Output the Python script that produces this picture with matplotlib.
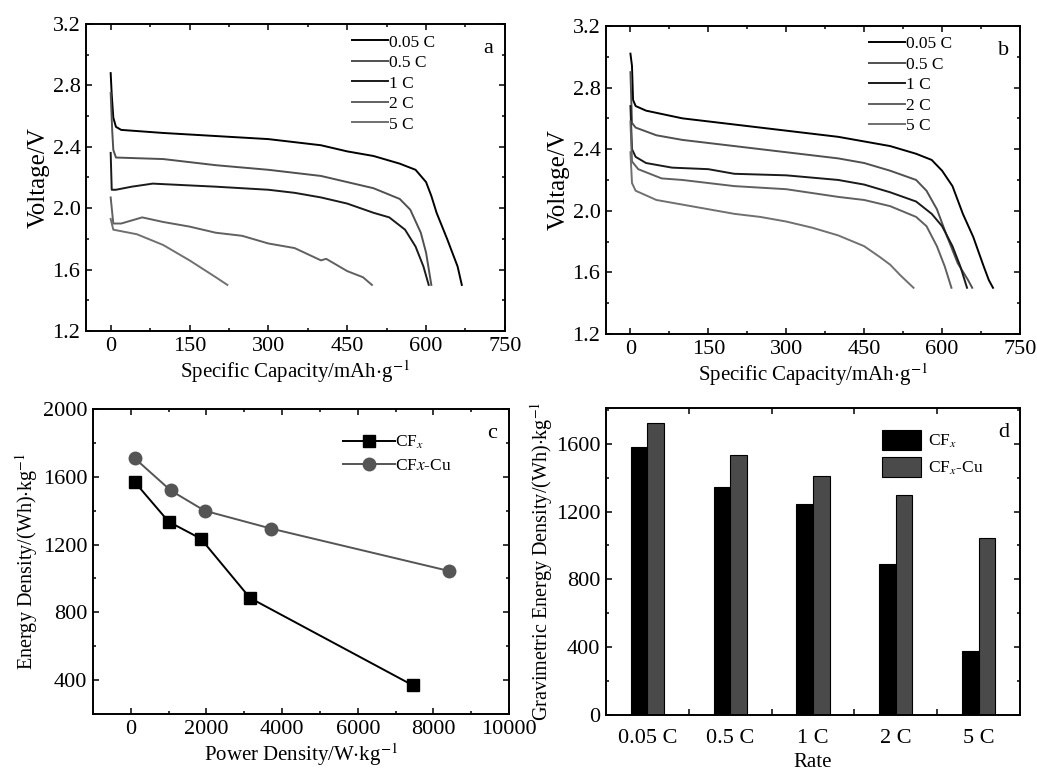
import numpy as np
import matplotlib
matplotlib.use("Agg")
import matplotlib.pyplot as plt
from matplotlib.ticker import MultipleLocator

plt.rcParams['font.family'] = ['Liberation Serif', 'DejaVu Serif']
plt.rcParams['mathtext.fontset'] = 'stix'
plt.rcParams['font.size'] = 13

# ---- panel a: CFx discharge curves ----
a_005_x = [0, 2, 5, 10, 20, 100, 200, 300, 400, 450, 500, 550, 580, 600, 610, 620, 640, 660, 668]
a_005_v = [2.88, 2.74, 2.59, 2.53, 2.51, 2.49, 2.47, 2.45, 2.41, 2.37, 2.34, 2.29, 2.25, 2.17, 2.08, 1.97, 1.80, 1.62, 1.50]
a_05_x = [0, 3, 5, 10, 100, 200, 300, 400, 450, 500, 550, 570, 590, 600, 610]
a_05_v = [2.75, 2.50, 2.38, 2.33, 2.32, 2.28, 2.25, 2.21, 2.17, 2.13, 2.06, 1.99, 1.84, 1.71, 1.50]
a_1_x = [0, 2, 10, 40, 80, 200, 300, 350, 400, 450, 500, 530, 560, 580, 595, 605]
a_1_v = [2.36, 2.12, 2.12, 2.14, 2.16, 2.14, 2.12, 2.10, 2.07, 2.03, 1.97, 1.94, 1.86, 1.75, 1.62, 1.50]
a_2_x = [0, 5, 20, 60, 100, 150, 200, 250, 300, 350, 400, 410, 420, 450, 480, 497]
a_2_v = [2.07, 1.90, 1.90, 1.94, 1.91, 1.88, 1.84, 1.82, 1.77, 1.74, 1.66, 1.67, 1.65, 1.59, 1.55, 1.50]
a_5_x = [0, 5, 50, 100, 150, 200, 222]
a_5_v = [1.93, 1.86, 1.83, 1.76, 1.66, 1.55, 1.50]

# ---- panel b: CFx-Cu discharge curves ----
b_005_x = [0, 3, 5, 10, 30, 100, 150, 200, 300, 400, 450, 500, 550, 580, 600, 620, 640, 660, 680, 690, 698]
b_005_v = [3.02, 2.94, 2.72, 2.68, 2.65, 2.60, 2.58, 2.56, 2.52, 2.48, 2.45, 2.42, 2.37, 2.33, 2.26, 2.16, 1.98, 1.83, 1.64, 1.55, 1.50]
b_05_x = [0, 3, 10, 50, 100, 200, 300, 400, 450, 500, 550, 570, 590, 610, 630, 650, 658]
b_05_v = [2.90, 2.57, 2.54, 2.49, 2.46, 2.42, 2.38, 2.34, 2.31, 2.26, 2.20, 2.13, 2.01, 1.83, 1.66, 1.55, 1.50]
b_1_x = [0, 3, 10, 30, 80, 150, 200, 300, 400, 450, 500, 550, 580, 600, 620, 635, 648]
b_1_v = [2.68, 2.40, 2.35, 2.31, 2.28, 2.27, 2.24, 2.23, 2.20, 2.17, 2.12, 2.06, 1.98, 1.90, 1.77, 1.64, 1.50]
b_2_x = [0, 3, 15, 60, 100, 200, 300, 400, 450, 500, 550, 570, 590, 605, 618]
b_2_v = [2.58, 2.32, 2.27, 2.21, 2.20, 2.16, 2.14, 2.09, 2.07, 2.03, 1.96, 1.90, 1.77, 1.64, 1.50]
b_5_x = [0, 3, 10, 50, 100, 150, 200, 250, 300, 350, 400, 450, 480, 500, 520, 545]
b_5_v = [2.38, 2.18, 2.13, 2.07, 2.04, 2.01, 1.98, 1.96, 1.93, 1.89, 1.84, 1.77, 1.70, 1.65, 1.58, 1.50]

rate_labels = ['0.05 C', '0.5 C', '1 C', '2 C', '5 C']
curve_colors = ['#000000', '#505050', '#1a1a1a', '#606060', '#707070']

# ---- panel c: Ragone ----
cfx_power = [100, 1000, 1850, 3150, 7450]
cfx_energy = [1570, 1335, 1235, 885, 370]
cfxcu_power = [100, 1050, 1950, 3700, 8400]
cfxcu_energy = [1710, 1520, 1400, 1295, 1045]

# ---- panel d: bar chart ----
cfx_bar = [1580, 1345, 1245, 890, 380]
cfxcu_bar = [1720, 1535, 1410, 1300, 1045]

fig = plt.figure(figsize=(10.37, 7.74), dpi=100)
ax_a = fig.add_axes([0.0829, 0.5724, 0.404, 0.3966])
ax_b = fig.add_axes([0.5844, 0.5685, 0.3992, 0.398])
ax_c = fig.add_axes([0.0897, 0.0775, 0.4012, 0.394])
ax_d = fig.add_axes([0.5844, 0.0762, 0.3992, 0.3966])


def style(ax):
    for s in ax.spines.values():
        s.set_linewidth(1.4)
    ax.tick_params(which='both', direction='in', top=True, right=True, width=1.1)
    ax.tick_params(which='major', length=4, labelsize=16, pad=4)
    ax.tick_params(which='minor', length=2.5)


for ax, curves, letter in [
    (ax_a, [(a_005_x, a_005_v), (a_05_x, a_05_v), (a_1_x, a_1_v), (a_2_x, a_2_v), (a_5_x, a_5_v)], 'a'),
    (ax_b, [(b_005_x, b_005_v), (b_05_x, b_05_v), (b_1_x, b_1_v), (b_2_x, b_2_v), (b_5_x, b_5_v)], 'b'),
]:
    for (x, v), lab, col in zip(curves, rate_labels, curve_colors):
        ax.plot(x, v, color=col, lw=1.4, label=lab)
    ax.set_xlim(-47, 750)
    ax.set_ylim(1.2, 3.2)
    ax.xaxis.set_major_locator(MultipleLocator(150))
    ax.xaxis.set_minor_locator(MultipleLocator(75))
    ax.yaxis.set_major_locator(MultipleLocator(0.4))
    ax.yaxis.set_minor_locator(MultipleLocator(0.2))
    ax.yaxis.set_major_formatter(plt.FormatStrFormatter('%.1f'))
    ax.set_xlabel('Specific Capacity/mAh$\\cdot$g$^{-1}$', fontsize=15, labelpad=2)
    ax.set_ylabel('Voltage/V', fontsize=18, labelpad=2)
    ax.legend(loc='upper left', bbox_to_anchor=(0.61, 1.0), frameon=False,
              fontsize=12.5, handlelength=2.1, handletextpad=0.05, labelspacing=0.25,
              borderaxespad=0.2)
    ax.text(0.96, 0.92, letter, transform=ax.transAxes, fontsize=16, ha='center', va='center')
    style(ax)

# panel c
ax_c.plot(cfx_power, cfx_energy, color='black', lw=1.4, marker='s', ms=9, label='CF$_x$')
ax_c.plot(cfxcu_power, cfxcu_energy, color='#555555', lw=1.4, marker='o', ms=9,
          label='CF$x$-Cu')
ax_c.set_xlim(-1000, 10000)
ax_c.set_ylim(200, 2000)
ax_c.xaxis.set_major_locator(MultipleLocator(2000))
ax_c.xaxis.set_minor_locator(MultipleLocator(1000))
ax_c.yaxis.set_major_locator(MultipleLocator(400))
ax_c.yaxis.set_minor_locator(MultipleLocator(200))
ax_c.set_xlabel('Power Density/W$\\cdot$kg$^{-1}$', fontsize=15, labelpad=2)
ax_c.set_ylabel('Energy Density/(Wh)$\\cdot$kg$^{-1}$', fontsize=14.5, labelpad=2)
ax_c.legend(loc='upper right', bbox_to_anchor=(0.9, 0.97), frameon=False, fontsize=12.5,
            handlelength=3.0, handletextpad=0.0, labelspacing=0.4)
ax_c.text(0.96, 0.92, 'c', transform=ax_c.transAxes, fontsize=16, ha='center', va='center')
style(ax_c)

# panel d
xpos = np.arange(len(rate_labels))
w = 0.2
ax_d.bar(xpos - w / 2, cfx_bar, w, color='black', edgecolor='black', lw=0.8, label='CF$_x$')
ax_d.bar(xpos + w / 2, cfxcu_bar, w, color='#4a4a4a', edgecolor='black', lw=0.8,
         label='CF$_x$-Cu')
ax_d.set_xlim(-0.5, 4.5)
ax_d.set_ylim(0, 1810)
ax_d.set_xticks(xpos)
ax_d.set_xticklabels(rate_labels)
ax_d.set_xticks(xpos[:-1] + 0.5, minor=True)
ax_d.yaxis.set_major_locator(MultipleLocator(400))
ax_d.yaxis.set_minor_locator(MultipleLocator(200))
ax_d.set_xlabel('Rate', fontsize=15, labelpad=4)
ax_d.set_ylabel('Gravimetric Energy Density/(Wh)$\\cdot$kg$^{-1}$', fontsize=14.5, labelpad=1)
ax_d.legend(loc='upper left', bbox_to_anchor=(0.63, 0.98), frameon=False, fontsize=12.5,
            handlelength=2.2, handleheight=1.4, handletextpad=0.4, labelspacing=0.4)
ax_d.text(0.96, 0.92, 'd', transform=ax_d.transAxes, fontsize=16, ha='center', va='center')
style(ax_d)
ax_d.tick_params(axis='x', which='major', length=0, pad=10)
ax_d.tick_params(axis='x', which='minor', length=4)

fig.savefig('out.png', dpi=100)
